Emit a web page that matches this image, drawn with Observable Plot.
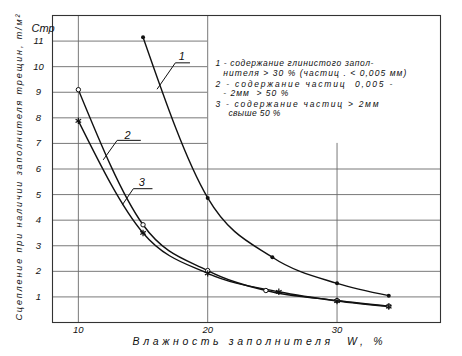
<!DOCTYPE html>
<html><head><meta charset="utf-8">
<script src="https://cdn.jsdelivr.net/npm/d3@7"></script>
<script src="https://cdn.jsdelivr.net/npm/@observablehq/plot@0.6"></script>
<style>body{margin:0;background:#fff} #chart svg{display:block;background:#fff}</style>
</head><body><div id="chart"></div>
<script>
// Data
const moisture1 = [15, 20, 25, 30, 34];
const cohesion1 = [11.15, 4.87, 2.55, 1.53, 1.05];
const moisture2 = [10, 15, 20, 24.5, 30, 34];
const cohesion2 = [9.1, 3.82, 2.03, 1.25, 0.86, 0.64];
const moisture3 = [10, 15, 20, 25.5, 30, 34];
const cohesion3 = [7.88, 3.5, 1.92, 1.2, 0.84, 0.62];

const xTicks = [10, 20, 30];
const yTicks = [1, 2, 3, 4, 5, 6, 7, 8, 9, 10, 11];
const legendLines = [
  "1 - содержание глинистого запол-",
  "нителя > 30 % (частиц . < 0,005 мм)",
  "2 - содержание частиц  0,005 -",
  "- 2мм  > 50 %",
  "3 - содержание частиц > 2мм",
  "свыше 50 %"
];
const legendX = [20.6, 21.2, 20.6, 21.2, 20.6, 21.6];
const legendY = [10.15, 9.76, 9.32, 8.97, 8.54, 8.18];
const curveLabels = ["1", "2", "3"];
const labelX = [18.0, 13.8, 14.9];
const labelY = [10.4, 7.32, 5.47];
// leader lines: diagonal end on the curve, corner, horizontal end
const leaders = [
  [[16.1, 9.13], [17.5, 10.15], [18.6, 10.15]],
  [[11.94, 6.37], [13.0, 7.12], [14.8, 7.12]],
  [[13.4, 4.6], [14.25, 5.23], [15.7, 5.23]]
];
const xLabel = "Влажность заполнителя  W, %";
const yLabel = "Сцепление при наличии заполнителя трещин, т/м²";
const yUnit = "Cтр";

const s1 = moisture1.map((x, i) => ({x, y: cohesion1[i]}));
const s2 = moisture2.map((x, i) => ({x, y: cohesion2[i]}));
const s3 = moisture3.map((x, i) => ({x, y: cohesion3[i]}));
const legend = legendLines.map((t, i) => ({t, x: legendX[i], y: legendY[i]}));
const labels = curveLabels.map((t, i) => ({t, x: labelX[i], y: labelY[i]}));
const leaderPts = leaders.flatMap((l, k) => l.map(([x, y]) => ({k, x, y})));

// text fitting widths (px) to mimic the wide hand lettering
const legendWidths = [158, 183, 177, 65, 163, 52];
const xLabelWidth = 250;
const yLabelWidth = 306;

const font = "'Liberation Sans', 'DejaVu Sans', sans-serif";
const grid = "#6a6a6a";

const chart = Plot.plot({
  width: 462, height: 356,
  marginLeft: 52, marginRight: 22, marginTop: 15, marginBottom: 34,
  x: {domain: [8, 38], axis: null},
  y: {domain: [0, 12], axis: null},
  style: {fontFamily: font, background: "#fff"},
  marks: [
    Plot.ruleY(yTicks.filter(d => d < 7), {x1: 8, x2: 38, stroke: grid, strokeWidth: 0.9}),
    Plot.ruleY(yTicks.filter(d => d >= 7), {x1: 8, x2: 20, stroke: grid, strokeWidth: 0.9}),
    Plot.ruleX(xTicks.filter(d => d < 30), {y1: 0, y2: 12, stroke: grid, strokeWidth: 0.9}),
    Plot.ruleX(xTicks.filter(d => d >= 30), {y1: 0, y2: 7, stroke: grid, strokeWidth: 0.9}),
    Plot.frame({stroke: "#333", strokeWidth: 1.1}),
    Plot.line(s1, {x: "x", y: "y", curve: "monotone-x", stroke: "#111", strokeWidth: 1.4}),
    Plot.line(s2, {x: "x", y: "y", curve: "monotone-x", stroke: "#111", strokeWidth: 1.4}),
    Plot.line(s3, {x: "x", y: "y", curve: "monotone-x", stroke: "#111", strokeWidth: 1.4}),
    Plot.dot(s1, {x: "x", y: "y", r: 2, fill: "#111"}),
    Plot.dot(s2, {x: "x", y: "y", r: 2.2, stroke: "#111", fill: "#fff", strokeWidth: 1}),
    Plot.dot(s3, {x: "x", y: "y", r: 3, symbol: "asterisk", stroke: "#111", strokeWidth: 1.2}),
    Plot.line(leaderPts, {x: "x", y: "y", z: "k", stroke: "#111", strokeWidth: 1}),
    Plot.text(labels, {x: "x", y: "y", text: "t", fontSize: 11, fontStyle: "italic", fill: "#111"}),
    Plot.text(legend, {x: "x", y: "y", text: "t", textAnchor: "start", fontSize: 8.5, fontStyle: "italic", fill: "#111"}),
    Plot.text(yTicks, {x: 8, y: d => d, dx: -14, fontSize: 9.5, fontStyle: "italic", fill: "#111"}),
    Plot.text(xTicks, {x: d => d, y: 0, dy: 7, fontSize: 9.5, fontStyle: "italic", fill: "#111"}),
    Plot.text([xLabel], {frameAnchor: "bottom", dx: 11, dy: 22, fontSize: 10.5, fontStyle: "italic", fill: "#111"}),
    Plot.text([yLabel], {frameAnchor: "bottom-left", dx: -31, dy: -2, rotate: -90, textAnchor: "start", fontSize: 9, fontStyle: "italic", fill: "#111"}),
    Plot.text([yUnit], {frameAnchor: "top-left", dx: -21, dy: 9, fontSize: 11, fontStyle: "italic", fill: "#111"})
  ]
});
document.getElementById("chart").append(chart);
const svg = d3.select(chart);
function fit(str, w) {
  svg.selectAll("text").filter(function() { return this.textContent === str; })
    .attr("textLength", w).attr("lengthAdjust", "spacing");
}
legendLines.forEach((t, i) => fit(t, legendWidths[i]));
fit(xLabel, xLabelWidth);
fit(yLabel, yLabelWidth);
</script></body></html>
